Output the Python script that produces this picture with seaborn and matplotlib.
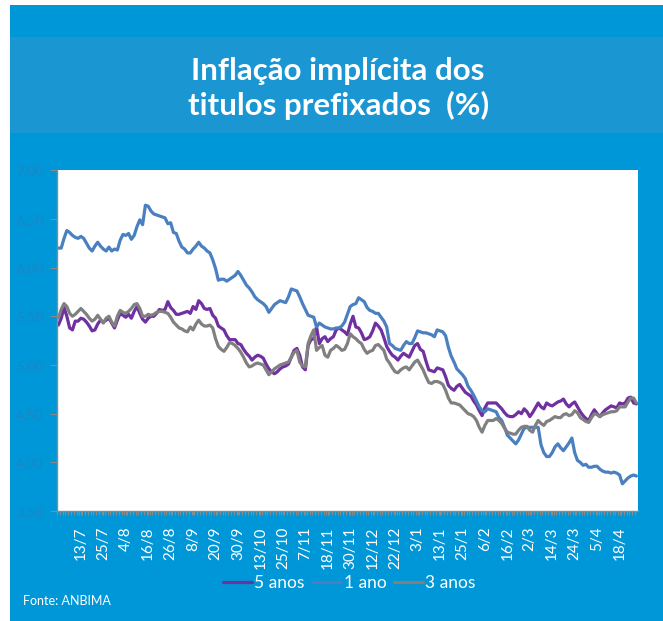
import numpy as np
import pandas as pd
import matplotlib
matplotlib.use("Agg")
import matplotlib.pyplot as plt
from matplotlib.patches import Rectangle
from matplotlib.ticker import FixedLocator, NullFormatter
import seaborn as sns

# dias uteis (jul/16 - abr/17), um rotulo a cada 8 pregoes
rotulos = ["13/7", "25/7", "4/8", "16/8", "26/8", "8/9", "20/9", "30/9", "13/10",
           "25/10", "7/11", "18/11", "30/11", "12/12", "22/12", "3/1", "13/1",
           "25/1", "6/2", "16/2", "2/3", "14/3", "24/3", "5/4", "18/4"]
pos_rotulos = [8 + 8 * k for k in range(len(rotulos))]

um_ano = [6.20, 6.20, 6.30, 6.38, 6.36, 6.33, 6.31, 6.30, 6.32, 6.30,
          6.25, 6.20, 6.17, 6.22, 6.26, 6.22, 6.19, 6.17, 6.21, 6.17,
          6.19, 6.18, 6.28, 6.34, 6.33, 6.35, 6.29, 6.33, 6.42, 6.49,
          6.44, 6.64, 6.63, 6.58, 6.55, 6.54, 6.53, 6.52, 6.51, 6.45,
          6.46, 6.36, 6.35, 6.27, 6.21, 6.19, 6.15, 6.15, 6.19, 6.22,
          6.26, 6.22, 6.20, 6.17, 6.15, 6.08, 5.99, 5.87, 5.88, 5.88,
          5.86, 5.88, 5.90, 5.92, 5.96, 5.92, 5.87, 5.82, 5.79, 5.75,
          5.70, 5.67, 5.65, 5.63, 5.60, 5.54, 5.58, 5.62, 5.64, 5.66,
          5.65, 5.64, 5.70, 5.78, 5.77, 5.76, 5.70, 5.63, 5.57, 5.51,
          5.50, 5.49, 5.39, 5.43, 5.41, 5.39, 5.38, 5.37, 5.37, 5.38,
          5.38, 5.40, 5.44, 5.52, 5.60, 5.62, 5.63, 5.69, 5.67, 5.65,
          5.59, 5.56, 5.55, 5.53, 5.53, 5.49, 5.45, 5.39, 5.22, 5.20,
          5.17, 5.16, 5.15, 5.20, 5.24, 5.22, 5.22, 5.28, 5.35, 5.34,
          5.33, 5.33, 5.32, 5.31, 5.29, 5.36, 5.35, 5.34, 5.30, 5.18,
          5.09, 5.03, 4.96, 4.93, 4.90, 4.86, 4.78, 4.74, 4.69, 4.63,
          4.57, 4.53, 4.52, 4.55, 4.54, 4.53, 4.52, 4.46, 4.43, 4.36,
          4.28, 4.25, 4.22, 4.19, 4.23, 4.29, 4.35, 4.36, 4.36, 4.36,
          4.36, 4.36, 4.18, 4.10, 4.06, 4.06, 4.10, 4.16, 4.19, 4.15,
          4.12, 4.16, 4.20, 4.25, 4.10, 4.02, 4.00, 3.97, 3.98, 3.95,
          3.95, 3.96, 3.96, 3.93, 3.91, 3.90, 3.90, 3.89, 3.90, 3.89,
          3.87, 3.78, 3.81, 3.84, 3.86, 3.87, 3.86]

tres_anos = [5.48, 5.57, 5.63, 5.60, 5.53, 5.50, 5.52, 5.55, 5.58, 5.55,
             5.52, 5.48, 5.45, 5.47, 5.51, 5.47, 5.43, 5.48, 5.50, 5.44,
             5.40, 5.50, 5.56, 5.54, 5.53, 5.55, 5.58, 5.62, 5.63, 5.58,
             5.50, 5.50, 5.52, 5.51, 5.52, 5.54, 5.55, 5.55, 5.54, 5.53,
             5.49, 5.44, 5.41, 5.38, 5.37, 5.35, 5.34, 5.39, 5.36, 5.42,
             5.46, 5.42, 5.40, 5.40, 5.41, 5.38, 5.27, 5.19, 5.16, 5.14,
             5.18, 5.23, 5.22, 5.20, 5.17, 5.13, 5.08, 5.02, 4.98, 4.99,
             5.01, 5.02, 5.01, 5.00, 4.95, 4.90, 4.93, 4.96, 4.98, 5.00,
             5.01, 5.02, 5.03, 5.08, 5.13, 5.15, 5.03, 4.99, 4.98, 5.22,
             5.30, 5.36, 5.15, 5.18, 5.20, 5.10, 5.08, 5.15, 5.17, 5.20,
             5.18, 5.15, 5.16, 5.22, 5.32, 5.29, 5.27, 5.24, 5.22, 5.16,
             5.12, 5.14, 5.15, 5.20, 5.21, 5.18, 5.15, 5.06, 5.02, 4.97,
             4.93, 4.92, 4.95, 4.97, 4.98, 4.95, 4.99, 5.03, 5.05, 5.00,
             4.95, 4.88, 4.82, 4.81, 4.83, 4.83, 4.82, 4.80, 4.74, 4.66,
             4.61, 4.61, 4.60, 4.59, 4.56, 4.53, 4.50, 4.49, 4.47, 4.43,
             4.36, 4.31, 4.38, 4.43, 4.43, 4.43, 4.45, 4.43, 4.40, 4.35,
             4.31, 4.30, 4.29, 4.29, 4.33, 4.36, 4.37, 4.37, 4.33, 4.31,
             4.38, 4.43, 4.40, 4.38, 4.42, 4.43, 4.45, 4.47, 4.46, 4.46,
             4.49, 4.50, 4.48, 4.49, 4.53, 4.51, 4.46, 4.44, 4.42, 4.41,
             4.46, 4.50, 4.49, 4.47, 4.49, 4.50, 4.51, 4.52, 4.52, 4.53,
             4.57, 4.57, 4.57, 4.62, 4.66, 4.66, 4.61]

cinco_anos = [5.41, 5.48, 5.59, 5.50, 5.38, 5.36, 5.45, 5.45, 5.48, 5.47,
              5.44, 5.40, 5.35, 5.36, 5.42, 5.46, 5.44, 5.46, 5.48, 5.43,
              5.38, 5.46, 5.53, 5.51, 5.49, 5.52, 5.48, 5.55, 5.60, 5.53,
              5.47, 5.44, 5.48, 5.50, 5.50, 5.53, 5.57, 5.56, 5.57, 5.65,
              5.59, 5.56, 5.52, 5.52, 5.53, 5.54, 5.55, 5.53, 5.60, 5.57,
              5.66, 5.63, 5.58, 5.57, 5.58, 5.51, 5.48, 5.40, 5.38, 5.36,
              5.30, 5.26, 5.26, 5.26, 5.22, 5.21, 5.16, 5.12, 5.09, 5.05,
              5.08, 5.10, 5.09, 5.07, 5.01, 4.96, 4.93, 4.91, 4.93, 4.96,
              4.98, 4.99, 5.01, 5.08, 5.15, 5.17, 5.10, 4.98, 4.95, 5.20,
              5.26, 5.27, 5.39, 5.22, 5.27, 5.29, 5.24, 5.27, 5.29, 5.36,
              5.38, 5.36, 5.34, 5.31, 5.42, 5.50, 5.39, 5.38, 5.33, 5.26,
              5.27, 5.29, 5.35, 5.43, 5.40, 5.36, 5.28, 5.19, 5.14, 5.10,
              5.08, 5.05, 5.09, 5.12, 5.10, 5.08, 5.14, 5.20, 5.22, 5.16,
              5.14, 5.04, 4.95, 4.94, 4.93, 4.97, 4.96, 4.95, 4.88, 4.79,
              4.76, 4.74, 4.78, 4.80, 4.76, 4.72, 4.70, 4.68, 4.63, 4.59,
              4.53, 4.48, 4.56, 4.61, 4.61, 4.61, 4.61, 4.58, 4.55, 4.51,
              4.48, 4.47, 4.47, 4.49, 4.52, 4.50, 4.55, 4.52, 4.47, 4.51,
              4.56, 4.61, 4.57, 4.55, 4.61, 4.59, 4.58, 4.60, 4.62, 4.63,
              4.65, 4.60, 4.57, 4.60, 4.62, 4.57, 4.52, 4.48, 4.45, 4.43,
              4.49, 4.54, 4.50, 4.47, 4.51, 4.54, 4.56, 4.58, 4.57, 4.56,
              4.61, 4.60, 4.61, 4.66, 4.67, 4.61, 4.60]

series = ["5 anos", "1 ano", "3 anos"]
cores = {"5 anos": "#7030A0", "1 ano": "#4A80C0", "3 anos": "#808080"}

n = len(um_ano)
df = pd.concat([
    pd.DataFrame({"dia": np.arange(n), "taxa": cinco_anos, "serie": "5 anos"}),
    pd.DataFrame({"dia": np.arange(n), "taxa": um_ano, "serie": "1 ano"}),
    pd.DataFrame({"dia": np.arange(n), "taxa": tres_anos, "serie": "3 anos"}),
])

sns.set_style("white")
plt.rcParams["font.family"] = ["Lato", "DejaVu Sans"]

azul = "#0097D8"
faixa = "#1A96D2"

fig = plt.figure(figsize = (6.63, 6.21), dpi = 100)
fig.patch.set_facecolor("white")
fig.patches.append(Rectangle((0.015, 0), 0.985, 0.992, transform = fig.transFigure,
                             facecolor = azul, edgecolor = "none", zorder = -10))
fig.patches.append(Rectangle((0.015, 0.786), 0.985, 0.154, transform = fig.transFigure,
                             facecolor = faixa, edgecolor = "none", zorder = -9))
fig.text(0.51, 0.857, "Inflação implícita dos\ntitulos prefixados  (%)", ha = "center",
         va = "center", color = "white", fontsize = 22.5, fontweight = "bold",
         linespacing = 1.25)

ax = fig.add_axes([0.086, 0.177, 0.876, 0.549])
ax.set_zorder(5)
sns.lineplot(data = df, x = "dia", y = "taxa", hue = "serie", hue_order = series,
             palette = cores, linewidth = 2.3, ax = ax, legend = True)

ax.set_facecolor("white")
ax.set_xlim(-0.5, n - 0.5)
ax.set_ylim(3.5, 7.0)
ax.set_xlabel("")
ax.set_ylabel("")

yt = np.arange(3.5, 7.01, 0.5)
ax.set_yticks(yt)
ax.set_yticklabels(["{:.2f}".format(v).replace(".", ",") for v in yt],
                   color = "#1C86C4", fontsize = 10)
ax.set_xticks(pos_rotulos)
ax.set_xticklabels(rotulos, rotation = 90, color = "white", fontsize = 11)
ax.xaxis.set_minor_locator(FixedLocator(np.arange(n) - 0.5))
ax.xaxis.set_minor_formatter(NullFormatter())
ax.tick_params(axis = "x", which = "both", bottom = True, length = 3, width = 0.8,
               color = "#8A8A8A", pad = 8)
ax.tick_params(axis = "y", left = True, length = 5, width = 0.8, color = "#8A8A8A", pad = 5)

for s in ["top", "right"]:
    ax.spines[s].set_visible(False)
for s in ["left", "bottom"]:
    ax.spines[s].set_color("#8A8A8A")
    ax.spines[s].set_linewidth(1)

handles, labels = ax.get_legend_handles_labels()
ax.get_legend().remove()
leg = fig.legend(handles, labels, loc = "center", bbox_to_anchor = (0.527, 0.061), ncol = 3,
                 frameon = False, fontsize = 12.5, handlelength = 1.65, handletextpad = 0.15,
                 columnspacing = 0.45, labelcolor = "white")

fig.text(0.035, 0.032, "Fonte: ANBIMA", color = "white", fontsize = 9, ha = "left", va = "center")

fig.savefig("out.png", dpi = 100, facecolor = fig.get_facecolor())
